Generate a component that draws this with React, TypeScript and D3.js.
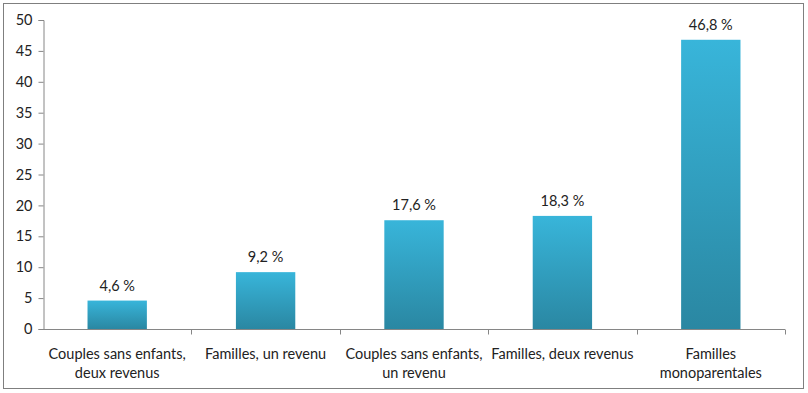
import React, { useEffect, useRef } from 'react';
import * as d3 from 'd3';

const categories = [
  ['Couples sans enfants,', 'deux revenus'],
  ['Familles, un revenu'],
  ['Couples sans enfants,', 'un revenu'],
  ['Familles, deux revenus'],
  ['Familles', 'monoparentales'],
];
const values = [4.6, 9.2, 17.6, 18.3, 46.8];
const yTicks = [0, 5, 10, 15, 20, 25, 30, 35, 40, 45, 50];

const App = () => {
  const svgRef = useRef<SVGSVGElement>(null);

  useEffect(() => {
    if (!svgRef.current) return;
    const width = 808;
    const height = 393;
    const svg = d3.select(svgRef.current);
    svg.selectAll('*').remove();

    const font = 'Lato, "Open Sans", sans-serif';
    const fs = '14.5px';
    const margin = { top: 20, right: 23, bottom: 64, left: 43 };

    // outer frame
    svg.append('rect')
      .attr('x', 3.5).attr('y', 3.5)
      .attr('width', 800).attr('height', 385)
      .attr('fill', '#fff').attr('stroke', '#7f7f7f');

    const defs = svg.append('defs');
    const grad = defs.append('linearGradient')
      .attr('id', 'barGrad').attr('x1', 0).attr('y1', 0).attr('x2', 0).attr('y2', 1);
    grad.append('stop').attr('offset', '0%').attr('stop-color', '#38b5da');
    grad.append('stop').attr('offset', '100%').attr('stop-color', '#2a87a2');

    const idx = values.map((_, i) => i);
    const x = d3.scaleBand<number>()
      .domain(idx)
      .range([margin.left, width - margin.right])
      .paddingInner(0.6).paddingOuter(0.3);
    const xOuter = d3.scaleBand<number>()
      .domain(idx)
      .range([margin.left, width - margin.right]);
    const y = d3.scaleLinear().domain([0, 50]).range([height - margin.bottom, margin.top]);

    // bars
    svg.append('g').selectAll('rect')
      .data(values)
      .enter()
      .append('rect')
      .attr('x', (_, i) => x(i)!)
      .attr('y', d => y(d))
      .attr('width', x.bandwidth())
      .attr('height', d => y(0) - y(d))
      .attr('fill', 'url(#barGrad)');

    // value labels
    svg.append('g').selectAll('text')
      .data(values)
      .enter()
      .append('text')
      .attr('x', (_, i) => x(i)! + x.bandwidth() / 2)
      .attr('y', d => y(d) - 10)
      .attr('text-anchor', 'middle')
      .attr('font-family', font)
      .attr('font-size', fs)
      .attr('fill', '#222')
      .text(d => d.toFixed(1).replace('.', ',') + ' %');

    // y axis
    const yAxis = svg.append('g')
      .attr('transform', `translate(${margin.left + 0.5},0)`)
      .call(d3.axisLeft(y).tickValues(yTicks).tickSize(5).tickPadding(6));
    yAxis.select('.domain').attr('stroke', '#868686');
    yAxis.selectAll('.tick line').attr('stroke', '#868686');
    yAxis.selectAll('.tick text')
      .attr('font-family', font).attr('font-size', fs).attr('fill', '#222');

    // x axis
    const xg = svg.append('g').attr('transform', `translate(0,${y(0) + 0.5})`);
    xg.append('line')
      .attr('x1', margin.left).attr('x2', width - margin.right)
      .attr('stroke', '#868686');
    const boundaries = idx.map(i => xOuter(i)! + xOuter.bandwidth());
    xg.selectAll('.xtick')
      .data(boundaries)
      .enter()
      .append('line')
      .attr('x1', d => Math.round(d) + 0.5).attr('x2', d => Math.round(d) + 0.5)
      .attr('y1', 0).attr('y2', 5)
      .attr('stroke', '#868686');

    // category labels
    const labels = svg.append('g').selectAll('text')
      .data(categories)
      .enter()
      .append('text')
      .attr('x', (_, i) => xOuter(i)! + xOuter.bandwidth() / 2)
      .attr('y', y(0) + 30)
      .attr('text-anchor', 'middle')
      .attr('font-family', font)
      .attr('font-size', fs)
      .attr('fill', '#222');
    labels.each(function (lines, i) {
      const t = d3.select(this);
      lines.forEach((l, k) => {
        t.append('tspan')
          .attr('x', xOuter(i)! + xOuter.bandwidth() / 2)
          .attr('dy', k === 0 ? 0 : 19)
          .text(l);
      });
    });
  }, []);

  return (
    <div>
      <svg ref={svgRef} width={808} height={393} style={{ position: 'absolute', left: 0, top: 0 }}></svg>
    </div>
  );
};

export default App;
